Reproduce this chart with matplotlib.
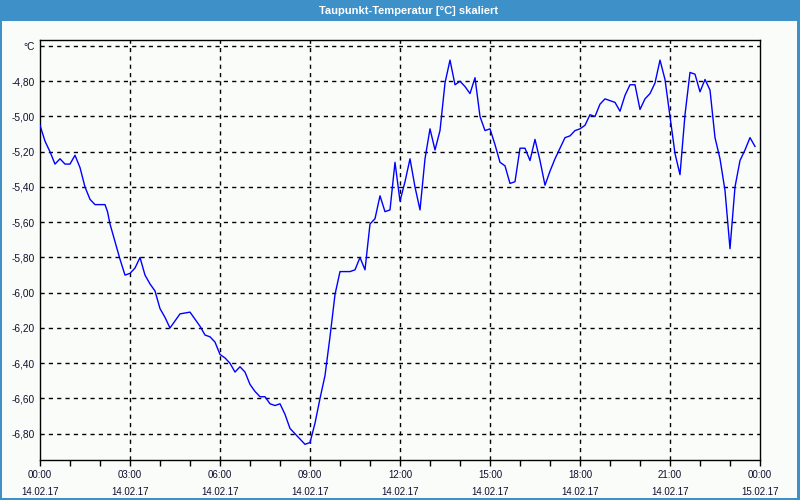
import matplotlib
matplotlib.use('Agg')
import matplotlib.pyplot as plt
from matplotlib.patches import Rectangle
from matplotlib.ticker import MultipleLocator, FixedLocator

# dew point readings, minutes after 14.02.17 00:00
minutes = [
    0, 10, 20, 30, 40, 50, 60, 70, 80, 90, 100, 110, 130, 135, 140, 150, 160, 170, 180, 190,
    200, 210, 220, 230, 240, 250, 260, 270, 280, 300, 310, 320, 330, 340, 350, 360, 370, 380,
    390, 400, 410, 420, 430, 440, 450, 460, 470, 480, 490, 500, 510, 520, 530, 540, 550, 560,
    570, 580, 590, 600, 620, 630, 640, 650, 660, 670, 680, 690, 700, 710, 720, 730, 740, 750,
    760, 770, 780, 790, 800, 810, 820, 830, 840, 850, 860, 870, 880, 890, 900, 910, 920, 930,
    940, 950, 960, 970, 980, 990, 1000, 1010, 1020, 1030, 1040, 1050, 1060, 1070, 1080, 1090,
    1100, 1110, 1120, 1130, 1140, 1150, 1160, 1170, 1180, 1190, 1200, 1210, 1220, 1230, 1240,
    1250, 1260, 1270, 1280, 1290, 1300, 1310, 1320, 1330, 1340, 1350, 1360, 1370, 1380, 1390,
    1400, 1410, 1420, 1430,
]
dewpoint = [
    -5.05, -5.14, -5.20, -5.27, -5.24, -5.27, -5.27, -5.22, -5.29, -5.40, -5.47, -5.50, -5.50,
    -5.54, -5.61, -5.71, -5.81, -5.90, -5.89, -5.86, -5.80, -5.90, -5.95, -5.99, -6.09, -6.14,
    -6.20, -6.16, -6.12, -6.11, -6.15, -6.19, -6.24, -6.25, -6.28, -6.35, -6.37, -6.40, -6.45,
    -6.42, -6.45, -6.52, -6.56, -6.59, -6.59, -6.63, -6.64, -6.63, -6.69, -6.77, -6.80, -6.83,
    -6.86, -6.85, -6.74, -6.60, -6.47, -6.25, -6.01, -5.88, -5.88, -5.87, -5.80, -5.87, -5.61,
    -5.58, -5.45, -5.54, -5.53, -5.26, -5.48, -5.37, -5.24, -5.40, -5.53, -5.24, -5.07, -5.19,
    -5.08, -4.81, -4.68, -4.82, -4.80, -4.83, -4.87, -4.78, -5.00, -5.08, -5.07, -5.16, -5.26,
    -5.28, -5.38, -5.37, -5.18, -5.18, -5.25, -5.13, -5.25, -5.39, -5.31, -5.24, -5.18, -5.12,
    -5.11, -5.08, -5.07, -5.05, -4.99, -5.00, -4.93, -4.90, -4.91, -4.92, -4.97, -4.88, -4.82,
    -4.82, -4.96, -4.90, -4.87, -4.81, -4.68, -4.79, -5.00, -5.21, -5.33, -4.99, -4.75, -4.76,
    -4.86, -4.79, -4.85, -5.12, -5.24, -5.42, -5.75, -5.40, -5.25, -5.19, -5.12, -5.17,
]

hour_ticks = [0, 3, 6, 9, 12, 15, 18, 21, 24]
hour_labels = ['00:00\n14.02.17', '03:00\n14.02.17', '06:00\n14.02.17', '09:00\n14.02.17',
               '12:00\n14.02.17', '15:00\n14.02.17', '18:00\n14.02.17', '21:00\n14.02.17',
               '00:00\n15.02.17']
value_ticks = [-6.8, -6.6, -6.4, -6.2, -6.0, -5.8, -5.6, -5.4, -5.2, -5.0, -4.8, -4.6]
value_labels = ['-6,80', '-6,60', '-6,40', '-6,20', '-6,00', '-5,80', '-5,60', '-5,40',
                '-5,20', '-5,00', '-4,80', '°C']

title = 'Taupunkt-Temperatur [°C] skaliert'
frame_blue = '#3d90c8'
text_col = '#101030'

plt.rcParams['font.family'] = ['Liberation Sans', 'DejaVu Sans']

fig = plt.figure(figsize=(8, 5), dpi=100, facecolor='#fafcfa')

# window chrome: title bar and thin blue border
fig.patches.append(Rectangle((0, 0.958), 1, 0.042, transform=fig.transFigure,
                             facecolor=frame_blue, edgecolor='none', zorder=0))
for rect in [(0, 0, 0.003, 1), (0.9965, 0, 0.0035, 1), (0, 0, 1, 0.005)]:
    fig.patches.append(Rectangle(rect[:2], rect[2], rect[3], transform=fig.transFigure,
                                 facecolor=frame_blue, edgecolor='none', zorder=0))
fig.text(0.511, 0.979, title, ha='center', va='center', color='white',
         fontsize=8, fontweight='bold')

ax = fig.add_axes([0.05, 0.08, 0.90, 0.84])
ax.set_facecolor('#fafcfa')

hours = [m / 60 for m in minutes]
ax.plot(hours, dewpoint, color='#0000ff', linewidth=1.0, zorder=3)

ax.set_xlim(0, 24)
ax.set_ylim(-6.949, -4.566)

ax.xaxis.set_major_locator(FixedLocator(hour_ticks))
ax.xaxis.set_minor_locator(MultipleLocator(1))
ax.set_xticklabels(hour_labels)
ax.set_yticks(value_ticks)
ax.set_yticklabels(value_labels)

ax.tick_params(axis='x', which='both', direction='out', length=4, width=1,
               color='black', labelsize=7, labelcolor=text_col, pad=3)
ax.tick_params(axis='y', length=0, labelsize=7.3, labelcolor=text_col, pad=4)
for lbl in ax.get_xticklabels():
    lbl.set_linespacing(1.9)

for v in value_ticks:
    ax.axhline(v, color='black', linewidth=1.0, linestyle=(0, (3, 3)), zorder=1)
for h in hour_ticks[1:-1]:
    ax.axvline(h, color='black', linewidth=1.0, linestyle=(0, (3, 3)), zorder=1)

for side in ax.spines.values():
    side.set_color('black')
    side.set_linewidth(1.0)

fig.savefig('out.png', dpi=100, facecolor=fig.get_facecolor())
